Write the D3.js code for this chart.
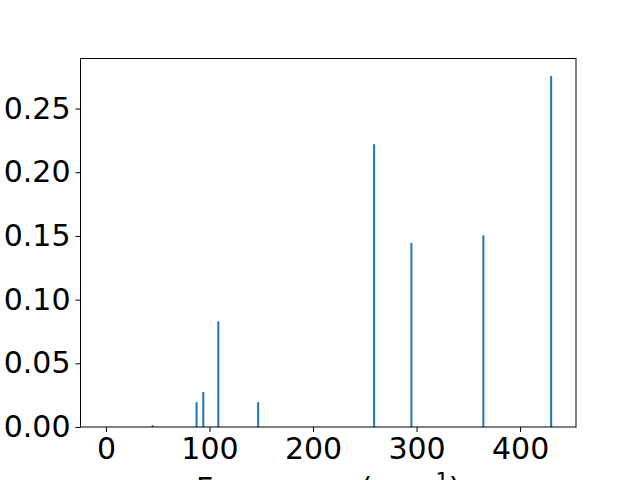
<!DOCTYPE html>
<html>
<head>
<meta charset="utf-8">
<script src="https://cdn.jsdelivr.net/npm/d3@7"></script>
<style>
  body { margin: 0; background: #fff; }
  svg { display: block; font-family: "DejaVu Sans", sans-serif; }
</style>
</head>
<body>
<div id="chart"></div>
<script>
// peak positions (cm^-1) and intensities
const freqs = [45, 87.5, 94, 108.5, 147, 259, 295, 364.5, 430];
const intensities = [0.0015, 0.0195, 0.0275, 0.083, 0.0195, 0.222, 0.1445, 0.1505, 0.2755];
const xTicks = [0, 100, 200, 300, 400];
const yTicks = [0, 0.05, 0.10, 0.15, 0.20, 0.25];

const width = 640;
const height = 480;
const margin = { top: 58.5, bottom: 53, left: 80.5, right: 64 };

const svg = d3.select('#chart')
  .append('svg')
  .attr('width', width)
  .attr('height', height);

// x domain with matplotlib style 5% margins around bar edges
const x = d3.scaleLinear()
  .domain([-24.6, 454])
  .range([margin.left, width - margin.right]);

const y = d3.scaleLinear()
  .domain([0, 0.2755 * 1.05])
  .range([height - margin.bottom, margin.top]);

const barW = 2;

svg.append('g')
  .attr('fill', '#1f77b4')
  .selectAll('rect')
  .data(freqs.map((f, i) => ({ f, v: intensities[i] })))
  .join('rect')
    .attr('x', d => x(d.f) - barW / 2)
    .attr('y', d => y(d.v))
    .attr('width', barW)
    .attr('height', d => y(0) - y(d.v));

//design axes
const xAxis = (g) => {
  g.attr('transform', `translate(0,${height - margin.bottom})`)
    .call(d3.axisBottom(x).tickValues(xTicks).tickFormat(d3.format('d')).tickSize(5).tickPadding(6))
    .attr('font-size', '30px')
    .attr('font-family', '"DejaVu Sans", sans-serif');
  g.select('.domain').remove();
};
const yAxis = (g) => {
  g.attr('transform', `translate(${margin.left},0)`)
    .call(d3.axisLeft(y).tickValues(yTicks).tickFormat(d3.format('.2f')).tickSize(5).tickPadding(5))
    .attr('font-size', '30px')
    .attr('font-family', '"DejaVu Sans", sans-serif');
  g.select('.domain').remove();
};

svg.append('g').call(xAxis);
svg.append('g').call(yAxis);
svg.selectAll('.tick line').attr('stroke', '#000').attr('stroke-width', 1);
svg.selectAll('.tick text').attr('fill', '#000');

// frame
svg.append('rect')
  .attr('x', margin.left)
  .attr('y', margin.top)
  .attr('width', width - margin.right - margin.left)
  .attr('height', height - margin.bottom - margin.top)
  .attr('fill', 'none')
  .attr('stroke', '#000')
  .attr('stroke-width', 1);

// x label, mostly cut off by the figure edge (as in the original)
const xlab = svg.append('text')
  .attr('x', (margin.left + width - margin.right) / 2)
  .attr('y', 499)
  .attr('text-anchor', 'middle')
  .attr('font-size', '30px');
xlab.append('tspan').text('Frequency (cm');
xlab.append('tspan').attr('font-size', '21px').attr('dy', -11).text('\u22121');
xlab.append('tspan').attr('dy', 11).text(')');
</script>
</body>
</html>
